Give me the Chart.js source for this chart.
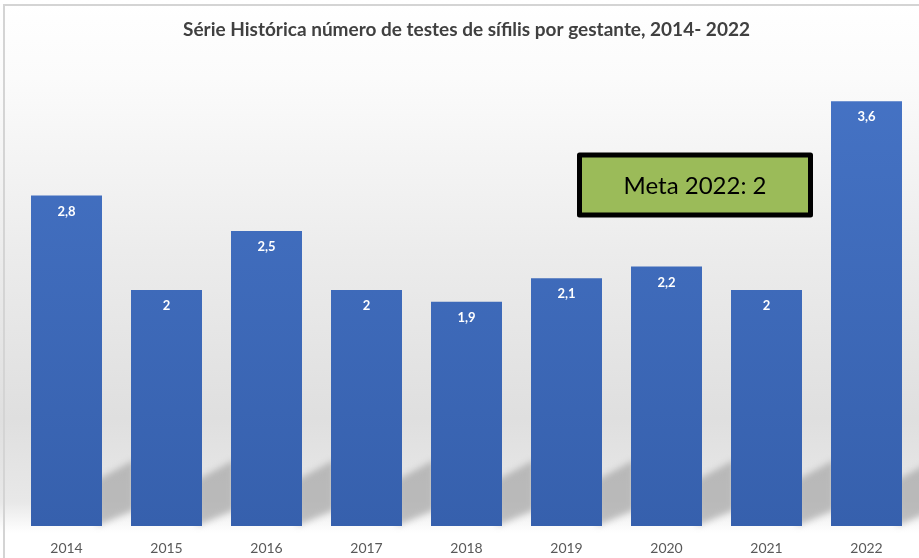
<!DOCTYPE html>
<html><head><meta charset="utf-8">
<script src="https://cdn.jsdelivr.net/npm/chart.js@4.4.1/dist/chart.umd.min.js"></script>
<style>html,body{margin:0;padding:0;background:#fff}#wrap{width:919px;height:558px;position:relative}</style>
</head><body><div id="wrap"><canvas id="c" width="919" height="558"></canvas></div>
<script>
const titleText = 'Série Histórica número de testes de sífilis por gestante, 2014- 2022';
const years = ['2014','2015','2016','2017','2018','2019','2020','2021','2022'];
const testsPerPregnant = [2.8, 2.0, 2.5, 2.0, 1.9, 2.1, 2.2, 2.0, 3.6];
const goalLabel = 'Meta 2022: 2';

const bgPlugin = {
  id: 'bg',
  beforeDraw(chart) {
    const {ctx, width, height} = chart;
    ctx.save();
    const g = ctx.createLinearGradient(0, 0, 0, height);
    g.addColorStop(0, '#ffffff');
    g.addColorStop(0.14, '#fbfbfb');
    g.addColorStop(0.45, '#ececec');
    g.addColorStop(0.75, '#dfdfdf');
    g.addColorStop(0.9, '#e8e8e8');
    g.addColorStop(0.955, '#ffffff');
    g.addColorStop(1, '#ffffff');
    ctx.fillStyle = g;
    ctx.fillRect(0, 0, width, height);
    ctx.strokeStyle = '#d4d4d4';
    ctx.lineWidth = 2;
    ctx.beginPath();
    ctx.moveTo(4, height); ctx.lineTo(4, 5); ctx.lineTo(width, 5);
    ctx.stroke();
    ctx.restore();
  },
  beforeDatasetsDraw(chart) {
    const {ctx} = chart;
    const meta = chart.getDatasetMeta(0);
    ctx.save();
    ctx.filter = 'blur(3px)';
    ctx.fillStyle = 'rgba(165,165,165,0.7)';
    meta.data.forEach(bar => {
      const r = bar.x + bar.width / 2;
      const b = bar.base;
      ctx.beginPath();
      ctx.moveTo(r - 5, b);
      ctx.lineTo(r - 5, b - 46);
      ctx.lineTo(r + 32, b - 66);
      ctx.lineTo(r + 32, b - 16);
      ctx.closePath();
      ctx.fill();
    });
    ctx.restore();
  },
  afterDatasetsDraw(chart) {
    const {ctx} = chart;
    const meta = chart.getDatasetMeta(0);
    ctx.save();
    ctx.fillStyle = '#ffffff';
    ctx.font = 'bold 13px Lato, "Open Sans", sans-serif';
    ctx.textAlign = 'center';
    ctx.textBaseline = 'middle';
    meta.data.forEach((bar, i) => {
      const v = chart.data.datasets[0].data[i];
      ctx.fillText(String(v).replace('.', ','), bar.x, bar.y + 16);
    });
    // goal box
    const xs = chart.scales.x;
    const x0 = xs.getPixelForValue(5) + 13;
    const x1 = xs.getPixelForValue(8) - 56;
    const y0 = 155, y1 = 215;
    ctx.fillStyle = '#9bbb59';
    ctx.strokeStyle = '#000000';
    ctx.lineWidth = 5;
    ctx.lineJoin = 'round';
    ctx.beginPath();
    ctx.rect(x0, y0, x1 - x0, y1 - y0);
    ctx.fill();
    ctx.stroke();
    ctx.fillStyle = '#000000';
    ctx.font = '24px Lato, "Open Sans", sans-serif';
    ctx.fillText(goalLabel, (x0 + x1) / 2, (y0 + y1) / 2 + 1);
    ctx.restore();
  }
};

new Chart(document.getElementById('c'), {
  type: 'bar',
  data: {
    labels: years,
    datasets: [{
      data: testsPerPregnant,
      backgroundColor: (ctx) => {
        const ch = ctx.chart; const a = ch.chartArea;
        if (!a) return '#4472c4';
        const g = ch.ctx.createLinearGradient(0, a.top, 0, a.bottom);
        g.addColorStop(0, '#4674c6');
        g.addColorStop(1, '#3660ad');
        return g;
      },
      borderWidth: 0,
      barPercentage: 0.71,
      categoryPercentage: 1.0
    }]
  },
  options: {
    responsive: false,
    animation: false,
    devicePixelRatio: 1,
    layout: { padding: { left: 16.5, right: 2.5, top: 0, bottom: 0 } },
    plugins: {
      legend: { display: false },
      tooltip: { enabled: false },
      title: {
        display: true,
        text: titleText,
        color: '#404040',
        font: { family: 'Lato, "Open Sans", sans-serif', size: 19, weight: 'bold' },
        padding: { top: 18.6, bottom: 12.6 }
      }
    },
    scales: {
      x: {
        grid: { display: false, drawTicks: false },
        border: { display: false },
        ticks: { color: '#595959', font: { family: 'Lato, "Open Sans", sans-serif', size: 14 }, padding: 14 },
        afterFit(scale) { scale.height = 32; }
      },
      y: { display: false, min: 0, max: 4 }
    }
  },
  plugins: [bgPlugin]
});
</script></body></html>
